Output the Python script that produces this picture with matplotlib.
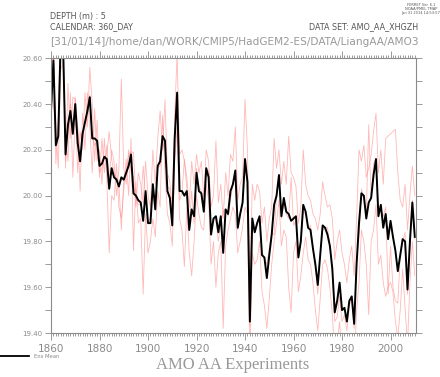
import numpy as np
import matplotlib
matplotlib.use("Agg")
import matplotlib.pyplot as plt
from matplotlib.ticker import MultipleLocator

# ---- data ----
years = np.arange(1860, 2011)

ens_mean = [
    20.37, 20.59, 20.22, 20.26, 20.68, 20.65, 20.18, 20.31, 20.37, 20.27,
    20.40, 20.23, 20.15, 20.27, 20.32, 20.37, 20.43, 20.25, 20.25, 20.24,
    20.13, 20.14, 20.17, 20.16, 20.03, 20.12, 20.08, 20.07, 20.04, 20.08,
    20.07, 20.10, 20.13, 20.18, 20.01, 20.00, 19.98, 19.97, 19.89, 20.02,
    19.88, 19.88, 20.05, 19.94, 20.13, 20.15, 20.26, 20.24, 20.02, 19.99,
    19.87, 20.25, 20.45, 20.02, 20.02, 20.00, 20.02, 19.85, 19.94, 19.91,
    20.10, 20.02, 20.01, 19.93, 20.12, 20.08, 19.83, 19.90, 19.91, 19.84,
    19.91, 19.75, 19.94, 19.92, 20.02, 20.05, 20.11, 19.86, 19.92, 19.97,
    20.16, 20.06, 19.45, 19.90, 19.84, 19.88, 19.91, 19.74, 19.73, 19.64,
    19.74, 19.83, 19.96, 20.00, 20.09, 19.91, 19.99, 19.93, 19.92, 19.89,
    19.90, 19.91, 19.73, 19.80, 19.96, 19.93, 19.86, 19.85, 19.77, 19.70,
    19.61, 19.74, 19.87, 19.86, 19.83, 19.78, 19.68, 19.49, 19.54, 19.62,
    19.50, 19.51, 19.45, 19.54, 19.56, 19.44, 19.70, 19.88, 20.01, 20.00,
    19.90, 19.97, 19.99, 20.09, 20.16, 19.91, 19.96, 19.86, 19.92, 19.81,
    19.89, 19.82, 19.76, 19.67, 19.74, 19.81, 19.80, 19.59, 19.80, 19.97,
    19.82,
]

member_1 = [
    20.30, 20.75, 20.14, 20.35, 20.80, 20.70, 20.12, 20.49, 20.25, 20.43,
    20.42, 20.10, 20.28, 20.20, 20.45, 20.30, 20.56, 20.40, 20.15, 20.33,
    20.08, 20.25, 20.10, 20.22, 20.06, 20.20, 20.15, 20.00, 20.12, 20.51,
    20.12, 20.05, 20.20, 20.10, 20.08, 19.95, 20.10, 20.05, 19.97, 20.15,
    20.00, 19.95, 20.20, 20.05, 20.25, 20.37, 20.20, 20.42, 20.10, 20.06,
    19.95, 20.35, 20.62, 20.18, 20.20, 20.15, 20.08, 19.95, 20.15, 20.05,
    20.18, 20.10, 20.15, 19.99, 20.20, 20.15, 19.95, 20.00, 20.24, 19.97,
    20.05, 19.90, 20.10, 20.00, 20.18, 20.15, 20.30, 19.98, 20.05, 20.08,
    20.42, 20.20, 19.62, 20.05, 19.98, 20.05, 20.02, 19.88, 19.95, 19.80,
    19.90, 19.95, 20.25, 20.12, 20.20, 20.05, 20.15, 20.05, 20.26, 20.10,
    20.08, 20.04, 19.88, 19.95, 20.20, 20.05, 20.00, 19.98, 19.92, 19.90,
    19.85, 19.92, 20.06, 20.00, 19.95, 19.96, 19.90, 19.72, 19.80, 19.85,
    19.75, 19.70, 19.62, 19.72, 19.78, 19.65, 19.90, 20.20, 20.15, 20.22,
    20.08, 20.12, 20.18, 20.28, 20.36, 20.10, 20.20, 20.05, 20.25, 20.26,
    20.27, 20.28, 20.29, 20.10, 19.98, 19.95, 20.05, 19.85, 20.00, 20.13,
    20.00,
]

member_2 = [
    20.45, 20.40, 20.30, 20.12, 20.55, 20.58, 20.28, 20.15, 20.45, 20.08,
    20.35, 20.30, 20.02, 20.36, 20.20, 20.45, 20.30, 20.10, 20.38, 20.15,
    20.20, 20.05, 20.25, 20.08, 19.75, 20.00, 19.98, 20.14, 19.95, 19.90,
    20.02, 20.16, 20.00, 20.25, 19.76, 20.06, 19.88, 19.90, 19.57, 19.92,
    19.75, 19.80, 19.90, 19.82, 20.02, 19.95, 20.35, 20.10, 19.92, 19.88,
    19.78, 20.15, 20.30, 19.90, 19.85, 19.69, 19.95, 19.75, 19.65, 19.80,
    20.00, 19.92, 19.86, 19.85, 20.05, 19.98, 19.70, 19.80, 19.60, 19.75,
    19.80, 19.42, 19.78, 19.85, 19.90, 19.95, 19.92, 19.75, 19.80, 19.86,
    19.95, 19.92, 19.30, 19.75, 19.70, 19.72, 19.80, 19.58, 19.52, 19.42,
    19.55, 19.70, 19.80, 19.88, 19.98, 19.78, 19.85, 19.82, 19.60, 19.49,
    19.75, 19.80, 19.58, 19.65, 19.75, 19.82, 19.72, 19.70, 19.62, 19.50,
    19.41, 19.55, 19.70, 19.72, 19.68, 19.60, 19.48, 19.30, 19.35, 19.45,
    19.30, 19.35, 19.32, 19.38, 19.35, 19.25, 19.50, 19.62, 19.85, 19.80,
    19.70, 19.48, 19.80, 19.85, 19.96, 19.70, 19.74, 19.62, 19.56, 19.60,
    19.62, 19.58, 19.45, 19.38, 19.50, 19.68, 19.51, 19.35, 19.62, 19.80,
    19.65,
]

member_3 = [
    20.36, 20.62, 20.22, 20.30, 20.70, 20.66, 20.15, 20.29, 20.40, 20.30,
    20.43, 20.30, 20.15, 20.25, 20.32, 20.35, 20.44, 20.25, 20.22, 20.24,
    20.10, 20.12, 20.16, 20.18, 20.28, 20.16, 20.10, 20.08, 20.05, 19.85,
    20.07, 20.09, 20.18, 20.19, 20.19, 19.99, 19.96, 19.96, 20.13, 19.99,
    19.89, 19.90, 20.05, 19.95, 20.12, 20.13, 20.23, 20.20, 20.04, 20.03,
    19.88, 20.25, 20.43, 19.98, 20.01, 20.16, 20.03, 19.85, 20.02, 19.88,
    20.12, 20.04, 20.02, 19.95, 20.11, 20.11, 19.84, 19.90, 19.89, 19.80,
    19.88, 19.93, 19.94, 19.91, 19.98, 20.05, 20.11, 19.85, 19.91, 19.97,
    20.11, 20.06, 19.43, 19.90, 19.84, 19.87, 19.91, 19.76, 19.72, 19.70,
    19.77, 19.84, 19.83, 20.00, 20.09, 19.90, 19.97, 19.92, 19.90, 20.08,
    19.87, 19.89, 19.73, 19.80, 19.93, 19.92, 19.86, 19.87, 19.77, 19.70,
    19.57, 19.75, 19.85, 19.86, 19.86, 19.78, 19.66, 19.45, 19.47, 19.56,
    19.45, 19.48, 19.41, 19.52, 19.55, 19.42, 19.70, 19.82, 20.03, 19.98,
    19.92, 20.31, 19.99, 20.14, 20.16, 19.93, 19.94, 19.91, 19.95, 19.57,
    19.78, 19.60, 19.54, 19.53, 19.74, 19.80, 19.84, 19.57, 19.78, 19.98,
    19.81,
]

members = [member_1, member_2, member_3]

x_ticks = [1860, 1880, 1900, 1920, 1940, 1960, 1980, 2000]
y_ticks = [19.40, 19.60, 19.80, 20.00, 20.20, 20.40, 20.60]

# ---- figure ----
gray = "#8a8a8a"
fig = plt.figure(figsize=(4.4, 3.77), dpi=100)
ax = fig.add_axes([51 / 440, 1 - 333 / 377, 365 / 440, (333 - 58.3) / 377])

for m in members:
    ax.plot(years, m, color="#ff8a8a", lw=0.6, alpha=0.6)
ax.plot(years, ens_mean, color="black", lw=1.4)

ax.set_xlim(1860, 2010.5)
ax.set_ylim(19.4, 20.6)

ax.set_xticks(x_ticks)
ax.set_yticks(y_ticks)
ax.set_yticklabels(["%.2f" % v for v in y_ticks])
ax.xaxis.set_minor_locator(MultipleLocator(1))
ax.yaxis.set_minor_locator(MultipleLocator(0.1))

ax.tick_params(axis="both", which="both", direction="out", color=gray,
               top=True, right=True, labelcolor=gray, width=0.6)
ax.tick_params(axis="x", which="major", length=5, labelsize=7.5, pad=3)
ax.tick_params(axis="x", which="minor", length=2.5)
ax.tick_params(axis="y", which="major", length=4, labelsize=5, pad=2)
ax.tick_params(axis="y", which="minor", length=4)
for s in ax.spines.values():
    s.set_color(gray)
    s.set_linewidth(0.8)

# ---- header texts ----
fig.text(50 / 440, 1 - 17 / 377, "DEPTH (m) : 5", fontsize=5.8, color="#555555", va="center")
fig.text(50 / 440, 1 - 27 / 377, "CALENDAR: 360_DAY", fontsize=5.8, color="#555555", va="center")
fig.text(418 / 440, 1 - 27 / 377, "DATA SET: AMO_AA_XHGZH", fontsize=5.8, color="#555555",
         va="center", ha="right")
fig.text(234 / 440, 1 - 42 / 377,
         "[31/01/14]/home/dan/WORK/CMIP5/HadGEM2-ES/DATA/LiangAA/AMO3",
         fontsize=7.6, color="#999999", va="center", ha="center")
fig.text(421 / 440, 1 - 9 / 377, "FERRET Ver. 6.1\nNOAA/PMEL TMAP\nJan 31 2014 14:53:57",
         fontsize=2.6, color="#555555", va="center", ha="center", linespacing=1.1)

# ---- title + legend ----
fig.text(233 / 440, 1 - 365 / 377, "AMO AA Experiments", fontsize=12,
         family="Liberation Serif", color="#999999", ha="center", va="center")
fig.add_artist(plt.Line2D([0, 29 / 440], [1 - 356 / 377] * 2, color="black", lw=1.3))
fig.text(34 / 440, 1 - 356 / 377, "Ens Mean", fontsize=3.8, color="#888888", va="center")

plt.savefig("out.png", dpi=100)
